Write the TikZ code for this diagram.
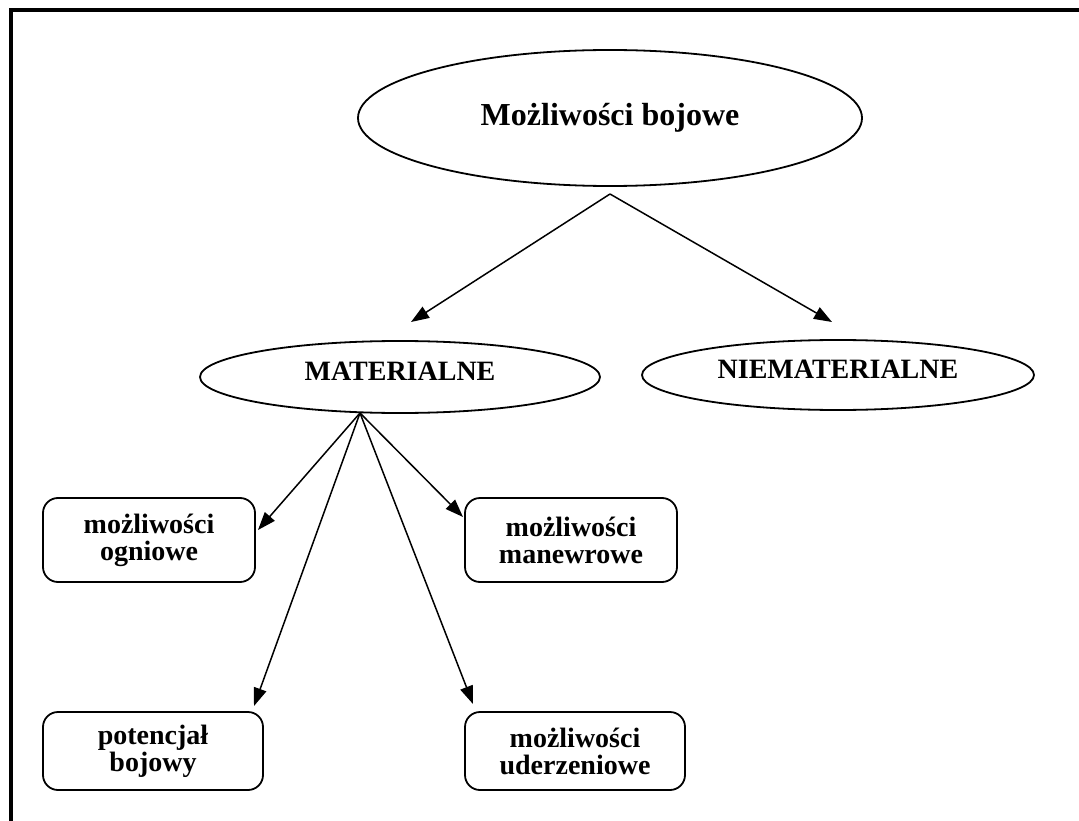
\documentclass[tikz,border=0pt]{standalone}
\usepackage{fontspec}
\setmainfont{Liberation Serif}
\usetikzlibrary{shapes.geometric,arrows.meta}

\begin{document}
\begin{tikzpicture}[x=1pt,y=-1pt,
		oval/.style={draw,ellipse,line width=1.8pt,inner sep=0pt,font=\bfseries\fontsize{28}{27}\selectfont},
		pole/.style={draw,rounded corners=15pt,line width=1.8pt,align=center,inner sep=0pt,font=\bfseries\fontsize{28}{27}\selectfont}]
		\useasboundingbox (0,0) rectangle (1079,821);
		\draw[line width=4pt] (11,821) -- (11,10) -- (1079,10);
		%
		\node[oval,minimum width=504pt,minimum height=136pt,font=\bfseries\fontsize{32}{36}\selectfont] (MB) at (610,118) {Możliwości bojowe};
		\node[oval,minimum width=400pt,minimum height=72pt,text depth=12pt] (MAT) at (400,377) {MATERIALNE};
		\node[oval,minimum width=392pt,minimum height=70pt,text depth=12pt] (NIE) at (838,375) {NIEMATERIALNE};
		\node[pole,minimum width=212pt,minimum height=84pt] (OGN) at (149,540) {możliwości\\ogniowe};
		\node[pole,minimum width=212pt,minimum height=84pt] (MAN) at (571,540) {możliwości\\manewrowe};
		\node[pole,minimum width=220pt,minimum height=78pt] (POT) at (153,751) {potencjał\\bojowy};
		\node[pole,minimum width=220pt,minimum height=78pt] (UDE) at (575,751) {możliwości\\uderzeniowe};
		%
		\coordinate (MB') at (610,194);
		\coordinate (MAT') at (360,413);
		\coordinate (MATin) at (411,322);
		\coordinate (NIEin) at (832,322);
		\coordinate (OGNin) at (258,530);
		\coordinate (MANin) at (463,517);
		\coordinate (POTin) at (254,706);
		\coordinate (UDEin) at (473,704);
		%
		\path[-{Triangle[length=18pt,width=13pt]},line width=1.5pt]
		(MB') edge (MATin)
		(MB') edge (NIEin)
		(MAT') edge (OGNin)
		(MAT') edge (MANin)
		(MAT') edge (POTin)
		(MAT') edge (UDEin);
	\end{tikzpicture}
\end{document}
